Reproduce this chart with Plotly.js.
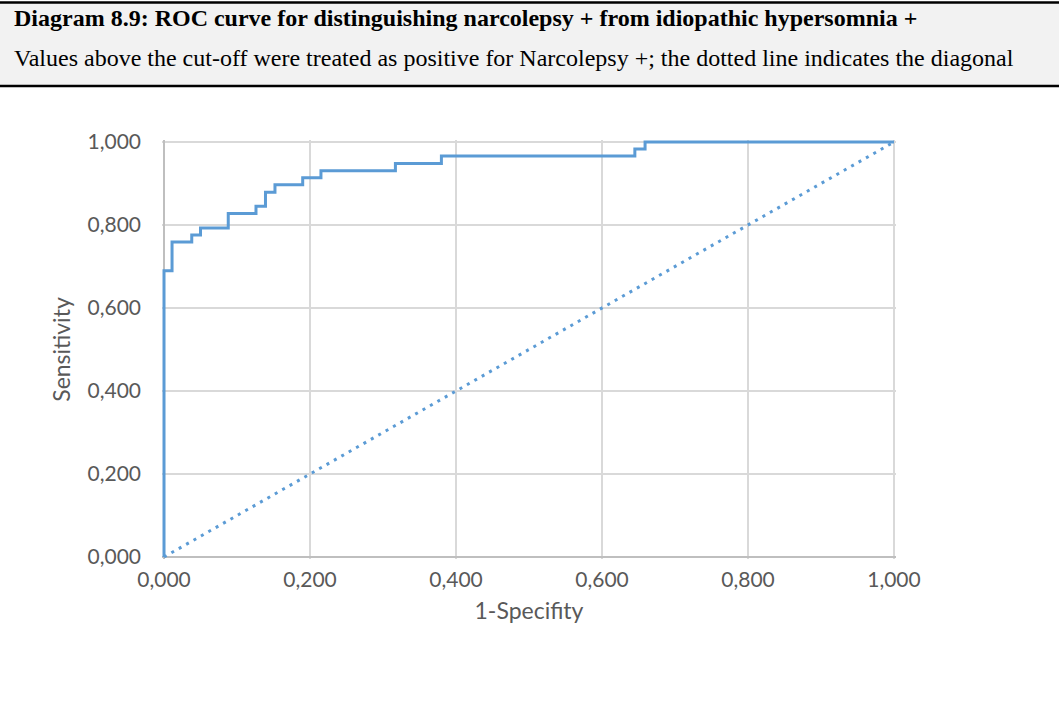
<!DOCTYPE html>
<html>
<head>
<meta charset="utf-8">
<script src="https://cdn.plot.ly/plotly-3.0.1.min.js"></script>
<style>
  html, body { margin: 0; padding: 0; background: #ffffff; }
  #chart { width: 1059px; height: 701px; }
</style>
</head>
<body>
<div id="chart"></div>
<script>
// ---- Data ----
var fprSteps = [0, 0.011, 0.038, 0.050, 0.088, 0.126, 0.139, 0.152, 0.190, 0.215, 0.317, 0.380, 0.645, 0.659, 1.000];
var sensitivity = [0, 0.690, 0.759, 0.776, 0.793, 0.828, 0.845, 0.879, 0.897, 0.914, 0.931, 0.948, 0.966, 0.983, 1.000];
var diagX = [0, 1];
var diagY = [0, 1];
var tickVals = [0, 0.2, 0.4, 0.6, 0.8, 1.0];
var tickText = ['0,000', '0,200', '0,400', '0,600', '0,800', '1,000'];
var titleText = '<b>Diagram 8.9: ROC curve for distinguishing narcolepsy + from idiopathic hypersomnia +</b>';
var subtitleText = 'Values above the cut-off were treated as positive for Narcolepsy +; the dotted line indicates the diagonal';
var xTitle = '1-Specifity';
var yTitle = 'Sensitivity';

// ---- Layout geometry ----
var W = 1059, H = 701;
var padX = 0.00275, padY = 0.00482;
var mL = 162, mR = 163, mT = 140, mB = 142;
var plotW = W - mL - mR, plotH = H - mT - mB;
function px2paperX(px) { return (px - mL) / plotW; }
function px2paperY(py) { return (mT + plotH - py) / plotH; }

var blue = '#5b9bd5';
var txtGray = '#595959';

var traces = [
  {
    x: fprSteps, y: sensitivity, type: 'scatter', mode: 'lines',
    line: { color: blue, width: 3, shape: 'vh' },
    hoverinfo: 'x+y', showlegend: false, cliponaxis: false
  },
  {
    x: diagX, y: diagY, type: 'scatter', mode: 'lines',
    line: { color: blue, width: 3, dash: '3px,5.5px' },
    hoverinfo: 'skip', showlegend: false, cliponaxis: false
  }
];

var axisCommon = {
  tickvals: tickVals, ticktext: tickText,
  showgrid: true, gridcolor: '#d9d9d9', gridwidth: 1.3,
  zeroline: true, zerolinecolor: '#bfbfbf', zerolinewidth: 1.5,
  showline: false, ticks: '', layer: 'below traces',
  tickfont: { family: 'Lato, sans-serif', size: 21, color: txtGray },
  fixedrange: true, automargin: false
};

var layout = {
  width: W, height: H,
  margin: { l: mL, r: mR, t: mT, b: mB, pad: 0 },
  paper_bgcolor: '#ffffff', plot_bgcolor: '#ffffff',
  showlegend: false,
  xaxis: Object.assign({}, axisCommon, {
    range: [-padX, 1 + padX],
    ticklabelstandoff: 6,
    title: { text: xTitle, font: { family: 'Lato, sans-serif', size: 23, color: txtGray }, standoff: 12 }
  }),
  yaxis: Object.assign({}, axisCommon, {
    range: [-padY, 1 + padY],
    ticklabelstandoff: 20,
    title: { text: yTitle, font: { family: 'Lato, sans-serif', size: 23, color: txtGray }, standoff: 10 }
  }),
  shapes: [
    {
      type: 'rect', xref: 'paper', yref: 'paper', layer: 'below',
      x0: px2paperX(0), x1: px2paperX(1059),
      y0: px2paperY(86), y1: px2paperY(2.5),
      fillcolor: '#f2f2f2', line: { width: 0 }
    },
    {
      type: 'line', xref: 'paper', yref: 'paper',
      x0: px2paperX(0), x1: px2paperX(1059),
      y0: px2paperY(2.5), y1: px2paperY(2.5),
      line: { color: '#000000', width: 2.5 }
    },
    {
      type: 'line', xref: 'paper', yref: 'paper',
      x0: px2paperX(0), x1: px2paperX(1059),
      y0: px2paperY(86), y1: px2paperY(86),
      line: { color: '#000000', width: 2.5 }
    }
  ],
  annotations: [
    {
      xref: 'paper', yref: 'paper', x: px2paperX(12), y: px2paperY(18),
      xanchor: 'left', yanchor: 'middle', showarrow: false, align: 'left',
      text: titleText,
      font: { family: '"Liberation Serif", "Times New Roman", serif', size: 24, color: '#000000' }
    },
    {
      xref: 'paper', yref: 'paper', x: px2paperX(12), y: px2paperY(58),
      xanchor: 'left', yanchor: 'middle', showarrow: false, align: 'left',
      text: subtitleText,
      font: { family: '"Liberation Serif", "Times New Roman", serif', size: 24, color: '#000000' }
    }
  ]
};

Plotly.newPlot('chart', traces, layout, { displayModeBar: false, staticPlot: true });
</script>
</body>
</html>
